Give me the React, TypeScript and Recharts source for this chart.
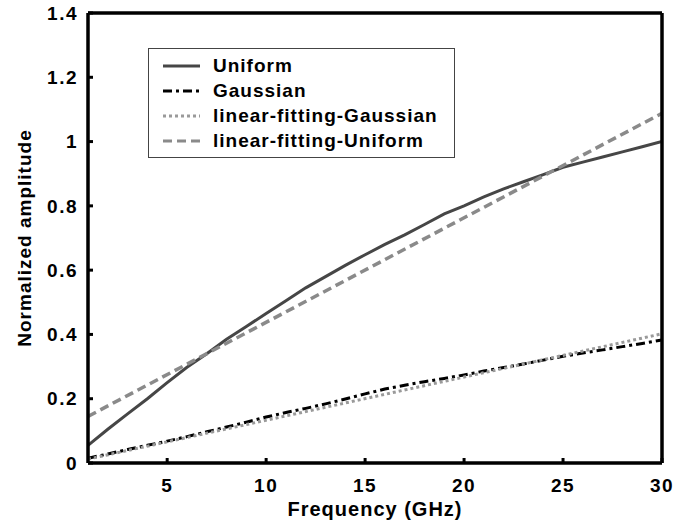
import { LineChart, Line, XAxis, YAxis, Legend } from 'recharts';

const freq = [1, 2, 3, 4, 5, 6, 7, 8, 9, 10, 11, 12, 13, 14, 15, 16, 17, 18, 19, 20, 21, 22, 23, 24, 25, 26, 27, 28, 29, 30];
const uniform = [0.055, 0.105, 0.153, 0.2, 0.25, 0.298, 0.34, 0.385, 0.425, 0.465, 0.505, 0.545, 0.58, 0.615, 0.648, 0.68, 0.71, 0.742, 0.775, 0.8, 0.828, 0.853, 0.875, 0.897, 0.92, 0.936, 0.952, 0.968, 0.984, 1.0];
const gaussian = [0.015, 0.028, 0.042, 0.055, 0.068, 0.082, 0.097, 0.112, 0.127, 0.143, 0.157, 0.17, 0.184, 0.199, 0.215, 0.23, 0.242, 0.253, 0.263, 0.274, 0.286, 0.297, 0.308, 0.32, 0.332, 0.342, 0.352, 0.362, 0.372, 0.383];
// straight fits: end points only
const fitFreq = [1, 30];
const fitGaussian = [0.012, 0.402];
const fitUniform = [0.145, 1.088];

const xTicks = [5, 10, 15, 20, 25, 30];
const yTicks = [0, 0.2, 0.4, 0.6, 0.8, 1, 1.2, 1.4];

const uniformData = freq.map((x, i) => ({ x, y: uniform[i] }));
const gaussianData = freq.map((x, i) => ({ x, y: gaussian[i] }));
const fitGaussianData = fitFreq.map((x, i) => ({ x, y: fitGaussian[i] }));
const fitUniformData = fitFreq.map((x, i) => ({ x, y: fitUniform[i] }));

const font = '"Liberation Sans", Arial, sans-serif';
const tickStyle = { fill: '#000', fontSize: 19, fontWeight: 'bold', fontFamily: font, letterSpacing: 1.5 };
const frame = { stroke: '#000', strokeWidth: 3.5 };

const legendItems = [
  { name: 'Uniform', color: '#464646', dash: undefined },
  { name: 'Gaussian', color: '#000', dash: '9 4 3 4' },
  { name: 'linear-fitting-Gaussian', color: '#9a9a9a', dash: '3 3' },
  { name: 'linear-fitting-Uniform', color: '#8a8a8a', dash: '9 5' },
];

const LegendBox = () => (
  <div
    style={{
      position: 'relative',
      width: 307,
      height: 110,
      boxSizing: 'border-box',
      border: '1px solid #444',
      background: '#fff',
      fontFamily: font,
      fontWeight: 'bold',
      fontSize: 19,
      letterSpacing: 1,
      lineHeight: '25px',
    }}
  >
    {legendItems.map((item, i) => (
      <div key={item.name} style={{ position: 'absolute', left: 0, top: 4 + i * 25, height: 25, display: 'flex', alignItems: 'center', whiteSpace: 'nowrap' }}>
        <svg width={37} height={10} style={{ marginLeft: 14, display: 'block' }}>
          <line x1={0} y1={5} x2={37} y2={5} stroke={item.color} strokeWidth={3} strokeDasharray={item.dash} />
        </svg>
        <span style={{ color: '#000', marginLeft: 13 }}>{item.name}</span>
      </div>
    ))}
  </div>
);

export default function App() {
  return (
    <div style={{ position: 'absolute', left: 0, top: 0, background: '#fff' }}>
      <LineChart width={688} height={526} margin={{ top: 0, right: 0, bottom: 0, left: 0 }}>
        <XAxis
          dataKey="x"
          type="number"
          domain={[1, 30]}
          ticks={xTicks}
          height={63}
          axisLine={frame}
          tickLine={{ stroke: '#000', strokeWidth: 3 }}
          tickSize={-5}
          tickMargin={21}
          tick={tickStyle}
          allowDataOverflow
          label={{ value: 'Frequency (GHz)', position: 'insideBottom', offset: 10, fill: '#000', fontSize: 20, fontWeight: 'bold', fontFamily: font, letterSpacing: 1 }}
        />
        <XAxis
          xAxisId="top"
          orientation="top"
          dataKey="x"
          type="number"
          domain={[1, 30]}
          ticks={xTicks}
          height={13}
          axisLine={frame}
          tickLine={{ stroke: '#000', strokeWidth: 3 }}
          tickSize={-5}
          tickFormatter={() => ''}
        />
        <YAxis
          type="number"
          domain={[0, 1.4]}
          ticks={yTicks}
          width={88}
          axisLine={frame}
          tickLine={{ stroke: '#000', strokeWidth: 3 }}
          tickSize={-5}
          tickMargin={15}
          tick={tickStyle}
          label={{ value: 'Normalized amplitude', angle: -90, position: 'insideLeft', offset: 24, fill: '#000', fontSize: 19, fontWeight: 'bold', fontFamily: font, letterSpacing: 1, style: { textAnchor: 'middle' } }}
        />
        <YAxis
          yAxisId="right"
          orientation="right"
          type="number"
          domain={[0, 1.4]}
          ticks={yTicks}
          width={26}
          axisLine={frame}
          tickLine={{ stroke: '#000', strokeWidth: 3 }}
          tickSize={-5}
          tickFormatter={() => ''}
        />
        <Line data={uniformData} dataKey="y" name="Uniform" stroke="#464646" strokeWidth={3} dot={false} isAnimationActive={false} type="linear" />
        <Line data={gaussianData} dataKey="y" name="Gaussian" stroke="#000" strokeWidth={3} strokeDasharray="9 4 3 4" dot={false} isAnimationActive={false} type="linear" />
        <Line data={fitGaussianData} dataKey="y" name="linear-fitting-Gaussian" stroke="#9a9a9a" strokeWidth={3} strokeDasharray="3 3" dot={false} isAnimationActive={false} type="linear" />
        <Line data={fitUniformData} dataKey="y" name="linear-fitting-Uniform" stroke="#8a8a8a" strokeWidth={3.5} strokeDasharray="9 5" dot={false} isAnimationActive={false} type="linear" />
        <Legend
          layout="vertical"
          align="center"
          verticalAlign="middle"
          content={() => <LegendBox />}
          wrapperStyle={{ left: 148, top: 48, width: 307, height: 110 }}
        />
      </LineChart>
    </div>
  );
}
